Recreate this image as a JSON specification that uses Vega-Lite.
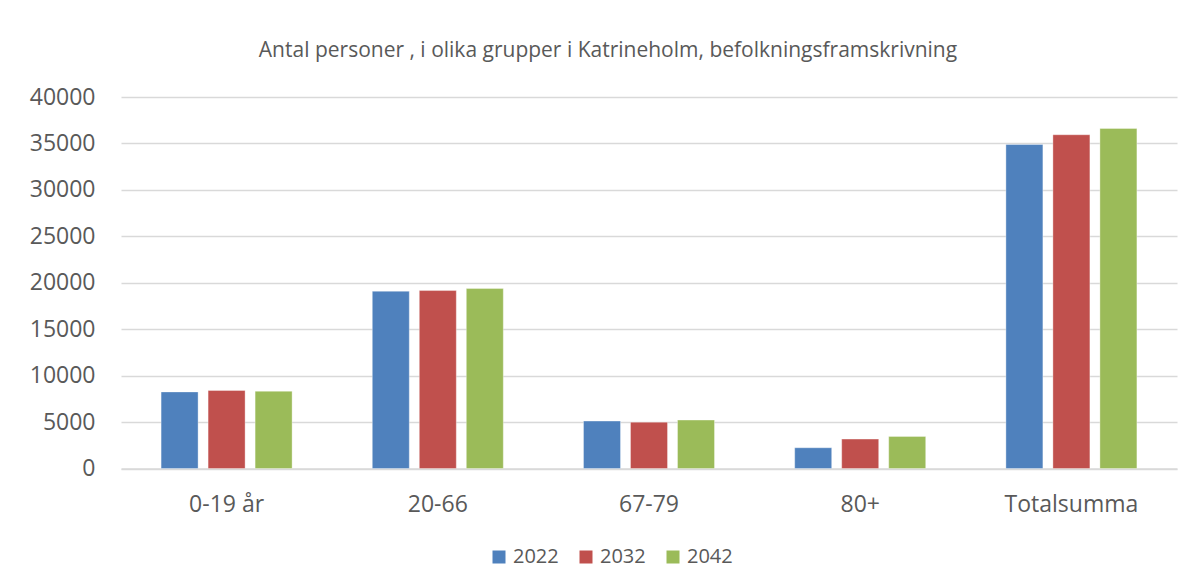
{
  "$schema": "https://vega.github.io/schema/vega-lite/v6.json",
  "autosize": {"type": "none"},
  "width": 1056,
  "height": 371.5,
  "padding": {"left": 121, "top": 97, "right": 16, "bottom": 118},
  "background": "white",
  "title": {
    "text": "Antal personer , i olika grupper i Katrineholm, befolkningsframskrivning",
    "font": "Open Sans",
    "fontSize": 21,
    "fontWeight": "normal",
    "color": "#595959",
    "anchor": "middle",
    "dx": -41,
    "offset": 25
  },
  "config": {
    "font": "Open Sans",
    "view": {"stroke": null},
    "axis": {"labelFont": "Open Sans", "labelColor": "#595959"}
  },
  "data": {
    "values": [
      {"grupp": "0-19 år", "år": "2022", "antal": 8245},
      {"grupp": "0-19 år", "år": "2032", "antal": 8396},
      {"grupp": "0-19 år", "år": "2042", "antal": 8320},
      {"grupp": "20-66", "år": "2022", "antal": 19085},
      {"grupp": "20-66", "år": "2032", "antal": 19160},
      {"grupp": "20-66", "år": "2042", "antal": 19375},
      {"grupp": "67-79", "år": "2022", "antal": 5108},
      {"grupp": "67-79", "år": "2032", "antal": 4990},
      {"grupp": "67-79", "år": "2042", "antal": 5216},
      {"grupp": "80+", "år": "2022", "antal": 2235},
      {"grupp": "80+", "år": "2032", "antal": 3164},
      {"grupp": "80+", "år": "2042", "antal": 3456},
      {"grupp": "Totalsumma", "år": "2022", "antal": 34890},
      {"grupp": "Totalsumma", "år": "2032", "antal": 35936},
      {"grupp": "Totalsumma", "år": "2042", "antal": 36614}
    ]
  },
  "mark": {"type": "bar", "stroke": "white", "strokeWidth": 1, "strokeOpacity": 0.35},
  "encoding": {
    "x": {
      "field": "grupp",
      "type": "nominal",
      "sort": null,
      "scale": {"paddingInner": 0, "paddingOuter": 0},
      "axis": {
        "title": null,
        "labelAngle": 0,
        "labelFontSize": 23,
        "labelPadding": 25,
        "ticks": false,
        "domain": true,
        "domainColor": "#d9d9d9",
        "domainWidth": 1.5
      }
    },
    "xOffset": {
      "field": "år",
      "type": "nominal",
      "scale": {"paddingInner": 0.213, "paddingOuter": 0.853}
    },
    "y": {
      "field": "antal",
      "type": "quantitative",
      "scale": {"domain": [0, 40000], "nice": false},
      "axis": {
        "title": null,
        "values": [0, 5000, 10000, 15000, 20000, 25000, 30000, 35000, 40000],
        "format": "d",
        "labelFontSize": 23,
        "labelPadding": 26,
        "ticks": false,
        "domain": false,
        "gridColor": "#d9d9d9",
        "gridWidth": 1.5
      }
    },
    "color": {
      "field": "år",
      "type": "nominal",
      "scale": {"domain": ["2022", "2032", "2042"], "range": ["#4F81BD", "#C0504D", "#9BBB59"]},
      "legend": {
        "title": null,
        "orient": "none",
        "direction": "horizontal",
        "legendX": 368,
        "legendY": 450,
        "symbolType": "square",
        "symbolSize": 169,
        "symbolStrokeWidth": 0,
        "labelFontSize": 20,
        "labelColor": "#595959",
        "labelFont": "Open Sans",
        "labelOffset": 4,
        "columnPadding": 17,
        "padding": 0
      }
    }
  }
}
